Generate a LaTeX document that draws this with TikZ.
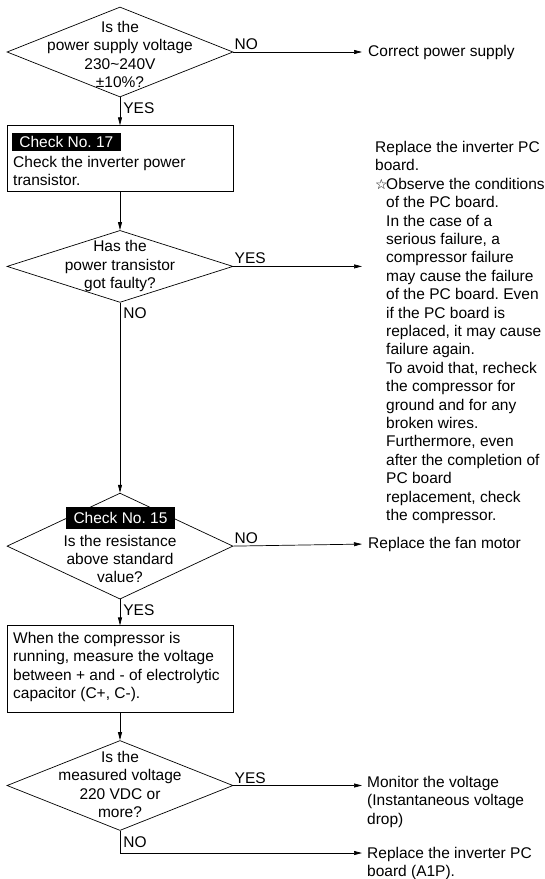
\documentclass[tikz,border=0pt]{standalone}
\usepackage{fontspec}
\setmainfont{Liberation Sans}
\newfontfamily\symfont{DejaVu Sans}
\usetikzlibrary{shapes.geometric, arrows.meta, positioning}
\frenchspacing
\newcommand{\chartfont}{\fontsize{15.5}{18.4}\selectfont}
\newcommand{\ind}{\hspace*{11pt}}
\newcommand{\starmark}{\makebox[11pt][l]{\symfont\fontsize{14}{14}\selectfont ☆}}
\tikzset{
	decision/.style={diamond, draw=black, line width=0.7pt, minimum width=226pt, inner sep=0pt},
	qtext/.style   ={align=center, inner sep=0pt, font=\chartfont},
	stepbox/.style ={rectangle, draw=black, line width=0.7pt, minimum width=226pt, inner sep=0pt},
	tag/.style     ={rectangle, fill=black, text=white, minimum width=109pt, inner sep=0pt, font=\chartfont},
	result/.style  ={align=left, inner sep=0pt, font=\chartfont},
	yn/.style      ={inner sep=0pt, font=\chartfont},
	flow/.style    ={-{Triangle[length=8pt, width=4pt]}, line width=0.7pt},
}

\begin{document}
\begin{tikzpicture}[x=1pt, y=-1pt]
	\useasboundingbox (0,0) rectangle (545,879);
	% supply voltage
	\node[decision, minimum height=90pt] (q1) at (120,52) {};
	\node[qtext] (q1t) at (120,54.5) {Is the\\power supply voltage\\230\textasciitilde240V\\±10\%?};
	\node[result, anchor=west] (fix1) at (368,52) {Correct power supply};
	% check 17
	\node[stepbox, minimum height=66pt, below=28pt of q1] (box1) {};
	\node[tag, minimum height=18pt, below right=7pt and 5pt of box1.north west, anchor=north west] (tag17) {Check No. 17};
	\node[result, anchor=north west] (box1t) at (13,156) {Check the inverter power\\transistor.};
	\node[decision, minimum height=72pt, below=38pt of box1] (q2) {};
	\node[qtext] (q2t) at (120,266) {Has the\\power transistor\\got faulty?};
	\node[result, anchor=north west] (note2) at (375,141) {Replace the inverter PC\\board.\\\starmark Observe the conditions\\
		\ind of the PC board.\\\ind In the case of a\\\ind serious failure, a\\\ind compressor failure\\
		\ind may cause the failure\\\ind of the PC board. Even\\\ind if the PC board is\\\ind replaced, it may cause\\
		\ind failure again.\\\ind To avoid that, recheck\\\ind the compressor for\\\ind ground and for any\\
		\ind broken wires.\\\ind Furthermore, even\\\ind after the completion of\\\ind PC board\\
		\ind replacement, check\\\ind the compressor.};
	% check 15
	\node[decision, minimum height=106pt, below=190pt of q2] (q3) {};
	\node[tag, minimum height=22pt] (tag15) at (120.5,518) {Check No. 15};
	\node[qtext] (q3t) at (120,559) {Is the resistance\\above standard\\value?};
	\node[result, anchor=west] (fix3) at (368,544) {Replace the fan motor};
	% capacitor voltage
	\node[stepbox, minimum height=87pt, below=26pt of q3] (box2) {};
	\node[result, anchor=north west] (box2t) at (13,632) {When the compressor is\\running, measure the voltage\\between + and - of electrolytic\\capacitor (C+, C-).};
	\node[decision, minimum height=90pt, below=27pt of box2] (q4) {};
	\node[qtext] (q4t) at (120,784.5) {Is the\\measured voltage\\220 VDC or\\more?};
	\node[result, anchor=north west] (fix4a) at (367,776) {Monitor the voltage\\(Instantaneous voltage\\drop)};
	\node[result, anchor=north west] (fix4b) at (367,847) {Replace the inverter PC\\board (A1P).};
	\coordinate (bend4) at (120,853);

	\draw[flow, shorten >=6pt] (q1.east) -- node[yn, pos=0, anchor=south west, xshift=1pt, yshift=2pt] (l1) {NO} (fix1.west);
	\draw[flow] (q1.south) -- node[yn, pos=0, anchor=north west, xshift=3pt, yshift=-5pt] (l2) {YES} (box1.north);
	\draw[flow] (box1.south) -- (q2.north);
	\draw[flow, shorten >=13pt] (q2.east) -- node[yn, pos=0, anchor=south west, xshift=1pt, yshift=2pt] (l3) {YES} (q2.east -| note2.west);
	\draw[flow] (q2.south) -- node[yn, pos=0, anchor=north west, xshift=3pt, yshift=-5pt] (l4) {NO} (q3.north);
	\draw[flow, shorten >=6pt] (q3.east) -- node[yn, pos=0, anchor=south west, xshift=1pt, yshift=2pt] (l5) {NO} (fix3.west);
	\draw[flow] (q3.south) -- node[yn, pos=0, anchor=north west, xshift=3pt, yshift=-5pt] (l6) {YES} (box2.north);
	\draw[flow] (box2.south) -- (q4.north);
	\draw[flow, shorten >=5pt] (q4.east) -- node[yn, pos=0, anchor=south west, xshift=1pt, yshift=2pt] (l7) {YES} (q4.east -| fix4a.west);
	\draw[flow, shorten >=5pt] (q4.south) -- node[yn, pos=0, anchor=north west, xshift=3pt, yshift=-5pt] (l8) {NO} (bend4) -- (bend4 -| fix4b.west);
\end{tikzpicture}
\end{document}
